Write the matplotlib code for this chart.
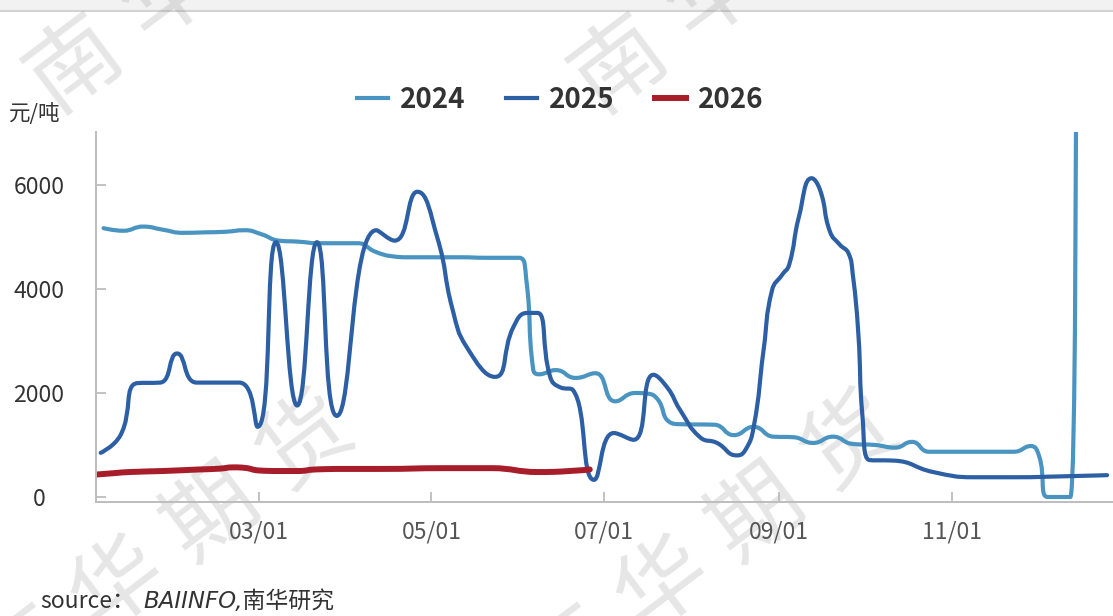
import matplotlib
matplotlib.use('Agg')
import matplotlib.pyplot as plt
from matplotlib.path import Path
from matplotlib.patches import PathPatch, Rectangle
from matplotlib.lines import Line2D
import numpy as np
import pandas as pd

# ---------------- data (days since Jan 1) ----------------
series_names = ['2024', '2025', '2026']

days_2024 = [4, 11, 18, 25, 32, 40, 47, 54, 60, 66, 73, 80, 94, 100, 106, 112, 130,
             140, 151, 153.5, 156, 158, 164, 171, 178, 185, 192, 196, 200, 204, 208,
             220, 227, 234, 241, 248, 255, 262, 269, 277, 284, 290, 296, 326, 332,
             335, 338, 346, 348]
values_2024 = [5170, 5120, 5200, 5140, 5080, 5090, 5100, 5130, 5050, 4930, 4910, 4880,
               4880, 4720, 4630, 4610, 4610, 4600, 4600, 4200, 2450, 2360, 2440, 2290,
               2380, 1840, 2000, 1990, 1880, 1450, 1400, 1390, 1190, 1350, 1160, 1150,
               1040, 1160, 1020, 1000, 950, 1060, 870, 870, 980, 780, 0, 0, 8000]

days_2025 = [3, 10, 16, 24, 30, 37, 52, 58.5, 65, 72.5, 79.5, 86.5, 100.5, 107, 115,
             122, 127.5, 132.5, 142.5, 149, 154, 157.5, 162, 165.5, 170, 177.5, 184.5,
             191.5, 198.5, 203.5, 208, 215, 221, 228, 231, 234, 237.5, 240.5, 244,
             246.5, 250, 254.5, 257.5, 261, 264.5, 267.5, 269, 271, 272.5, 275, 283.5,
             297.5, 312, 326, 345, 359]
values_2025 = [850, 1190, 2190, 2200, 2760, 2200, 2200, 1350, 4900, 1760, 4900, 1560,
               5130, 4930, 5870, 5000, 3600, 2880, 2310, 3270, 3540, 3540, 2310, 2110,
               2060, 330, 1230, 1100, 2350, 2100, 1670, 1150, 1040, 800, 900, 1350,
               2830, 3980, 4270, 4460, 5390, 6130, 5900, 5100, 4850, 4690, 4300, 3150,
               1540, 710, 700, 480, 380, 380, 400, 420]

days_2026 = [1, 8, 13, 25, 38, 45, 50, 54, 59, 66, 73, 79, 90, 102, 125, 141, 158, 166, 176]
values_2026 = [430, 460, 480, 500, 530, 545, 570, 560, 510, 500, 500, 530, 540, 540,
               555, 555, 480, 490, 530]

x_tick_labels = ['03/01', '05/01', '07/01', '09/01', '11/01']
y_ticks = [0, 2000, 4000, 6000]
unit_label = '元/吨'
source_prefix = 'source：'
source_body = 'BAIINFO,南华研究'
watermark = '南华期货'

colors = ['#4A94C1', '#2D5FA5', '#A71D2A']
widths = [3.0, 3.0, 4.3]

plt.rcParams['font.family'] = ['Noto Sans CJK SC', 'DejaVu Sans']

W, H = 1113, 616
fig = plt.figure(figsize=(W / 100, H / 100), dpi=100)
fig.patch.set_facecolor('white')

# top grey band
fig.add_artist(Rectangle((0, 1 - 10 / H), 1, 10 / H, transform=fig.transFigure,
                         facecolor='#f2f2f2', edgecolor='none', zorder=-3))
fig.add_artist(Line2D([0, 1], [1 - 10.5 / H, 1 - 10.5 / H], transform=fig.transFigure,
                      color='#d2d2d2', lw=1.5, zorder=-3))

# watermarks (each character placed individually; only those reaching the canvas)
step = (94, -71)
group_starts = [(75, 65), (620, 65), (1160, 65), (24, 656), (569, 656)]
for sx0, sy0 in group_starts:
    for k, ch in enumerate(watermark):
        px = sx0 + k * step[0]
        py = sy0 + k * step[1]
        if not (-40 <= px <= W + 40 and -40 <= py <= H + 40):
            continue
        fig.text(px / W, 1 - py / H, ch, fontsize=66, fontweight='normal',
                 color=(0.5, 0.5, 0.5), alpha=0.2, rotation=37,
                 ha='center', va='center', rotation_mode='anchor', zorder=-2)

ax = fig.add_axes([96 / W, 1 - 502 / H, 1 - 96 / W, (502 - 132) / H])
ax.patch.set_alpha(0)

SX, SY = 2.8265, 0.052


def smooth_path(xs, ys, smooth=0.5):
    P = np.column_stack([xs, ys]).astype(float) * [SX, SY]
    n = len(P)
    cin = [p.copy() for p in P]
    cout = [p.copy() for p in P]
    for i in range(1, n - 1):
        prev, cur, nxt = P[i - 1], P[i], P[i + 1]
        v = nxt - prev
        l0 = np.hypot(*(cur - prev))
        l1 = np.hypot(*(nxt - cur))
        r = l1 / (l0 + l1)
        co = cur + v * smooth * r
        co = np.minimum(co, np.maximum(nxt, cur))
        co = np.maximum(co, np.minimum(nxt, cur))
        ci = cur - (co - cur) * l0 / l1
        ci = np.minimum(ci, np.maximum(prev, cur))
        ci = np.maximum(ci, np.minimum(prev, cur))
        co = cur + (cur - ci) * l1 / l0
        cin[i] = ci
        cout[i] = co
    verts = [P[0]]
    codes = [Path.MOVETO]
    for i in range(n - 1):
        verts += [cout[i], cin[i + 1], P[i + 1]]
        codes += [Path.CURVE4] * 3
    verts = np.array(verts) / [SX, SY]
    return Path(verts, codes)


all_days = [days_2024, days_2025, days_2026]
all_vals = [values_2024, values_2025, values_2026]
for d, v, c, w in zip(all_days, all_vals, colors, widths):
    patch = PathPatch(smooth_path(d, v), facecolor='none', edgecolor=c, lw=w,
                      capstyle='round', joinstyle='round')
    ax.add_patch(patch)

ax.set_xlim(1.33, 361.1)
ax.set_ylim(-96, 7019)

tick_pos = [pd.Timestamp('2025-' + t.replace('/', '-')).dayofyear - 1 for t in x_tick_labels]
ax.set_xticks(tick_pos)
ax.set_xticklabels(x_tick_labels)
ax.set_yticks(y_ticks)
ax.set_yticklabels([str(t) for t in y_ticks])

for s in ['top', 'right']:
    ax.spines[s].set_visible(False)
for s in ['left', 'bottom']:
    ax.spines[s].set_color('#bdbdbd')
    ax.spines[s].set_linewidth(1.4)

ax.tick_params(axis='both', direction='in', length=7, width=1.3, color='#bdbdbd',
               labelsize=16.5, labelcolor='#555555')
ax.tick_params(axis='y', pad=41, labelcolor='#333333')
ax.tick_params(axis='x', pad=13)
for lab in ax.get_yticklabels():
    lab.set_ha('center')

# unit label
fig.text(35 / W, 1 - 114 / H, unit_label, fontsize=15.5, color='#333333',
         ha='center', va='center')

# legend
handles = [Line2D([], [], color=c, lw=w) for c, w in zip(colors, widths)]
leg = ax.legend(handles, series_names, loc='center', bbox_to_anchor=(560.5 / W, 1 - 100 / H),
                bbox_transform=fig.transFigure, ncol=3, frameon=False,
                prop=dict(weight='bold', size=20), handlelength=1.1,
                handletextpad=0.45, columnspacing=1.45, labelcolor='#333333')

# source
fig.text(40 / W, 1 - 608 / H, source_prefix, fontsize=16.5, color='#333333',
         ha='left', va='baseline')
fig.text(143 / W, 1 - 608 / H, source_body, fontsize=16.5, color='#333333',
         ha='left', va='baseline', style='italic',
         family=['DejaVu Sans', 'Noto Sans CJK SC'])

fig.savefig('out.png', dpi=100)
